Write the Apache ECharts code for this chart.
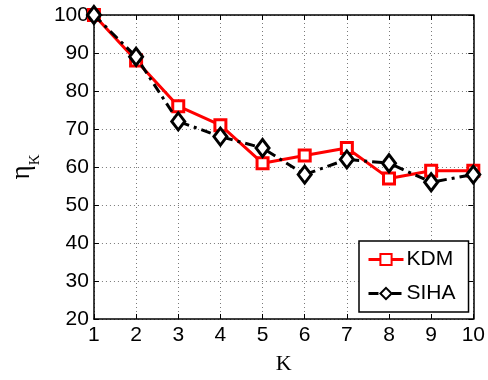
<!DOCTYPE html>
<html><head><meta charset="utf-8">
<script src="https://cdn.jsdelivr.net/npm/echarts@6/dist/echarts.min.js"></script>
<style>html,body{margin:0;padding:0;background:#fff}#c{width:488px;height:380px}</style>
</head><body><div id="c"></div>
<script>
const kValues = [1, 2, 3, 4, 5, 6, 7, 8, 9, 10];
const kdmValues = [100, 88, 76, 71, 61, 63, 65, 57, 59, 59];
const sihaValues = [100, 89, 72, 68, 65, 58, 62, 61, 56, 58];
const seriesNames = ['KDM', 'SIHA'];
const xTickMin = 1, xTickMax = 10, xTickStep = 1;
const yTickMin = 20, yTickMax = 100, yTickStep = 10;

const chart = echarts.init(document.getElementById('c'), null, {renderer: 'canvas'});
const tickFont = {fontFamily: 'Liberation Sans', fontSize: 21, color: '#000'};
const axisLineStyle = {color: '#000', width: 1.5};
const gridLine = {show: true, lineStyle: {color: '#7a7a7a', width: 1, type: [1, 3]}};

const option = {
  animation: false,
  backgroundColor: '#fff',
  grid: {left: 88, right: 11, top: 15, bottom: 51},
  legend: {
    orient: 'vertical',
    left: 359, top: 241,
    width: 108,
    backgroundColor: '#fff',
    borderColor: '#000', borderWidth: 1.5, borderRadius: 0,
    padding: [8, 13, 8, 8],
    itemWidth: 35, itemHeight: 14, itemGap: 13,
    lineStyle: {width: 3},
    textStyle: {fontFamily: 'Liberation Sans', fontSize: 21, color: '#000', padding: [0, 0, 0, -2]},
    data: seriesNames
  },
  xAxis: [{
    type: 'value', min: xTickMin, max: xTickMax, interval: xTickStep,
    name: 'K', nameLocation: 'middle', nameGap: 34,
    nameTextStyle: {fontFamily: 'Liberation Serif', fontSize: 22, color: '#000'},
    axisLine: {show: true, lineStyle: axisLineStyle},
    axisTick: {show: true, inside: true, length: 5, lineStyle: {color: '#000', width: 1}},
    axisLabel: Object.assign({margin: 6}, tickFont),
    splitLine: gridLine
  }, {
    type: 'value', position: 'top', min: xTickMin, max: xTickMax, interval: xTickStep,
    axisLine: {show: true, lineStyle: axisLineStyle},
    axisTick: {show: true, inside: true, length: 5, lineStyle: {color: '#000', width: 1}},
    axisLabel: {show: false}, splitLine: {show: false}
  }],
  yAxis: [{
    type: 'value', min: yTickMin, max: yTickMax, interval: yTickStep,
    name: '{e|η}{s|K}', nameLocation: 'middle', nameGap: 50, nameRotate: 90,
    nameTextStyle: {
      rich: {
        e: {fontFamily: 'Liberation Serif', fontSize: 27, color: '#000'},
        s: {fontFamily: 'Liberation Serif', fontSize: 15, color: '#000', verticalAlign: 'bottom', padding: [0, 0, -8, 0]}
      }
    },
    axisLine: {show: true, lineStyle: axisLineStyle},
    axisTick: {show: true, inside: true, length: 5, lineStyle: {color: '#000', width: 1}},
    axisLabel: Object.assign({margin: 5}, tickFont),
    splitLine: gridLine
  }, {
    type: 'value', position: 'right', min: yTickMin, max: yTickMax, interval: yTickStep,
    axisLine: {show: true, lineStyle: axisLineStyle},
    axisTick: {show: true, inside: true, length: 5, lineStyle: {color: '#000', width: 1}},
    axisLabel: {show: false}, splitLine: {show: false}
  }],
  series: [{
    name: seriesNames[0], type: 'line', clip: false, z: 3,
    data: kValues.map((k, i) => [k, kdmValues[i]]),
    symbol: 'rect', symbolSize: 11,
    lineStyle: {color: '#ff0000', width: 3},
    itemStyle: {color: '#fff', borderColor: '#ff0000', borderWidth: 3}
  }, {
    name: seriesNames[1], type: 'line', clip: false, z: 4,
    data: kValues.map((k, i) => [k, sihaValues[i]]),
    symbol: 'diamond', symbolSize: [13, 17],
    lineStyle: {color: '#000', width: 3, type: [10, 5, 3, 5]},
    itemStyle: {color: '#fff', borderColor: '#000', borderWidth: 3}
  }]
};
chart.setOption(option);
</script>
</body></html>
